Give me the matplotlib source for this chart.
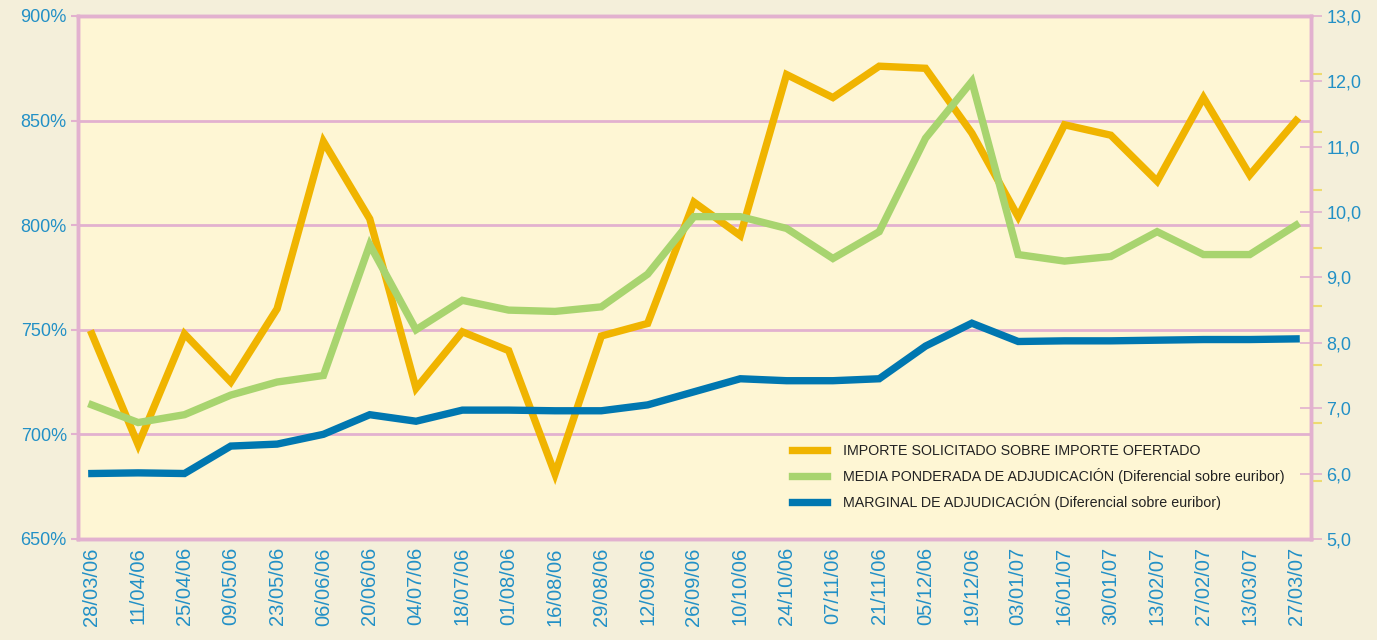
import numpy as np
import matplotlib.pyplot as plt

fechas = ["28/03/06", "11/04/06", "25/04/06", "09/05/06", "23/05/06", "06/06/06",
          "20/06/06", "04/07/06", "18/07/06", "01/08/06", "16/08/06", "29/08/06",
          "12/09/06", "26/09/06", "10/10/06", "24/10/06", "07/11/06", "21/11/06",
          "05/12/06", "19/12/06", "03/01/07", "16/01/07", "30/01/07", "13/02/07",
          "27/02/07", "13/03/07", "27/03/07"]

# importe solicitado / importe ofertado (%), left axis
importe = [748, 695, 748, 725, 760, 840, 803, 722, 749, 740, 681, 747, 753, 811,
           795, 872, 861, 876, 875, 844, 804, 848, 843, 821, 861, 824, 850]

# diferencial sobre euribor, right axis
media = [7.05, 6.78, 6.9, 7.2, 7.4, 7.5, 9.5, 8.2, 8.65, 8.5, 8.48, 8.55, 9.05,
         9.93, 9.93, 9.75, 9.29, 9.7, 11.13, 12.0, 9.35, 9.25, 9.32, 9.7, 9.35,
         9.35, 9.8]
marginal = [6.0, 6.01, 6.0, 6.42, 6.45, 6.6, 6.9, 6.8, 6.97, 6.97, 6.96, 6.96,
            7.05, 7.25, 7.45, 7.42, 7.42, 7.45, 7.95, 8.3, 8.02, 8.03, 8.03,
            8.04, 8.05, 8.05, 8.06]

left_ticks = [650, 700, 750, 800, 850, 900]
right_ticks = [5, 6, 7, 8, 9, 10, 11, 12, 13]

c_orange = "#F0B400"
c_green = "#A8D46F"
c_blue = "#0077B0"
c_pink = "#E2B1CF"
c_text = "#2290C6"

plt.rcParams["font.family"] = ["Liberation Sans", "DejaVu Sans"]

fig = plt.figure(figsize=(13.77, 6.4), dpi=100, facecolor="#F4EFDA")
ax = fig.add_axes([0.0566, 0.158, 0.8954, 0.817])
ax.set_facecolor("#FEF6D4")
ax2 = ax.twinx()

x = np.arange(len(fechas))

lw = 5.3
l1, = ax.plot(x, importe, color=c_orange, lw=lw, solid_joinstyle="miter",
              label="IMPORTE SOLICITADO SOBRE IMPORTE OFERTADO", zorder=3)
l2, = ax2.plot(x, media, color=c_green, lw=lw, solid_joinstyle="miter",
               label="MEDIA PONDERADA DE ADJUDICACIÓN (Diferencial sobre euribor)")
l3, = ax2.plot(x, marginal, color=c_blue, lw=lw, solid_joinstyle="miter",
               label="MARGINAL DE ADJUDICACIÓN (Diferencial sobre euribor)")

ax.set_xlim(-0.3, len(fechas) - 1 + 0.32)
ax.set_ylim(650, 900)
ax2.set_ylim(5, 13)

ax.set_yticks(left_ticks)
ax.set_yticklabels([f"{v}%" for v in left_ticks])
ax.set_xticks(x)
ax.set_xticklabels(fechas, rotation=90)
for v in left_ticks[1:-1]:
    ax.axhline(v, color=c_pink, lw=2, zorder=1)

ax.tick_params(axis="y", colors=c_pink, labelcolor=c_text, labelsize=13,
               length=5, width=1.5, direction="out", pad=3)
ax.tick_params(axis="x", length=0, labelcolor=c_text, labelsize=14.5, pad=6)

ax2.set_yticks(right_ticks)
ax2.set_yticklabels([f"{v},0" for v in right_ticks])
ax2.tick_params(axis="y", which="major", colors=c_pink, labelcolor=c_text,
                labelsize=13, length=16, width=1.2, direction="inout", pad=3)
ax2.set_yticks(np.linspace(5, 13, 10), minor=True)
ax2.tick_params(axis="y", which="minor", colors="#EEDB70", length=8,
                width=1.5, direction="out")

for a in (ax, ax2):
    for s in a.spines.values():
        s.set_color(c_pink)
        s.set_linewidth(2.5)

leg = ax2.legend(handles=[l1, l2, l3], loc="upper left",
                 bbox_to_anchor=(0.573, 0.195), frameon=False, fontsize=10.3,
                 handlelength=2.5, labelspacing=0.7, handletextpad=1.1,
                 borderpad=0)
for t in leg.get_texts():
    t.set_color("#222222")

fig.savefig("out.png", dpi=100, facecolor=fig.get_facecolor())
